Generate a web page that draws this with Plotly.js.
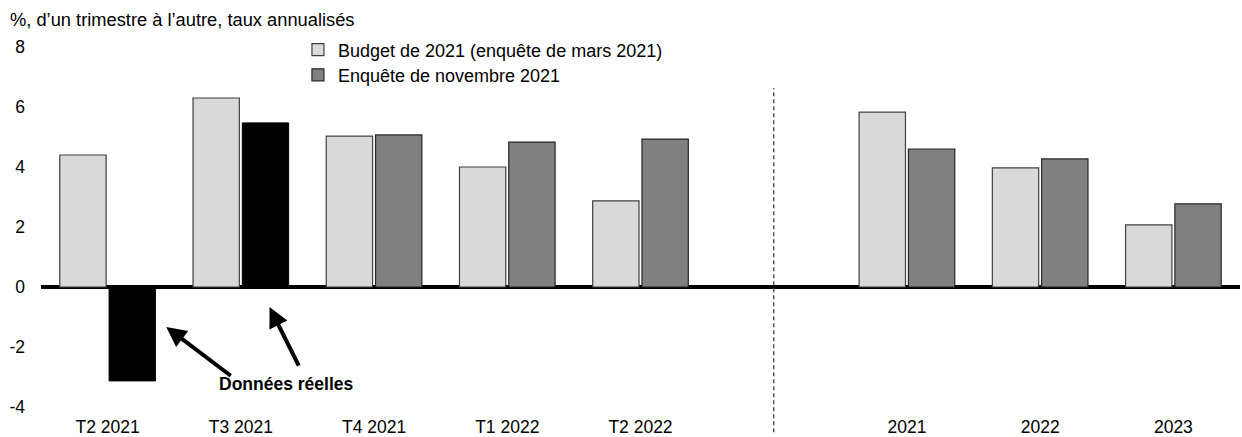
<!DOCTYPE html>
<html>
<head>
<meta charset="utf-8">
<script src="https://cdn.plot.ly/plotly-3.0.1.min.js"></script>
<style>html,body{margin:0;padding:0;background:#fff;}#chart{width:1242px;height:437px;}</style>
</head>
<body>
<div id="chart"></div>
<script>
const categories = ["T2 2021", "T3 2021", "T4 2021", "T1 2022", "T2 2022", " ", "2021", "2022", "2023"];
const budgetValues = [4.4, 6.3, 5.03, 4.0, 2.87, null, 5.83, 3.97, 2.07];
const actualValues = [-3.13, 5.47, null, null, null, null, null, null, null];
const novemberValues = [null, null, 5.07, 4.83, 4.93, null, 4.6, 4.27, 2.77];
const yTicks = [-4, -2, 0, 2, 4, 6, 8];
const yTickLabels = ["-4", "-2", "0", "2", "4", "6", "8"];
const budgetName = "Budget de 2021 (enquête de mars 2021)";
const novemberName = "Enquête de novembre 2021";
const yTitle = "%, d’un trimestre à l’autre, taux annualisés";
const noteText = "Données réelles";

const FONT = "Liberation Sans, Arial, sans-serif";
const traces = [
  {type: "bar", x: categories, y: budgetValues, name: budgetName, offsetgroup: "a", legend: "legend",
   marker: {color: "#d9d9d9", line: {color: "#404040", width: 1.2}}, hoverinfo: "x+y"},
  {type: "bar", x: categories, y: novemberValues, name: novemberName, offsetgroup: "b", legend: "legend2",
   marker: {color: "#808080", line: {color: "#262626", width: 1.2}}, hoverinfo: "x+y"},
  {type: "bar", x: categories, y: actualValues, name: noteText, offsetgroup: "b", showlegend: false,
   marker: {color: "#000000", line: {color: "#000000", width: 1}}, hoverinfo: "x+y"}
];

const legendBase = {x: 0.2143, xanchor: "left", yanchor: "middle", bgcolor: "rgba(0,0,0,0)",
                    font: {family: FONT, size: 18, color: "#000"}, itemwidth: 30};

const layout = {
  width: 1242, height: 437,
  margin: {l: 41, r: 2, t: 47, b: 30},
  paper_bgcolor: "#fff", plot_bgcolor: "#fff",
  font: {family: FONT, size: 18, color: "#000"},
  barmode: "group", bargap: 0.26, bargroupgap: 0.06,
  showlegend: true,
  legend: Object.assign({}, legendBase, {y: 0.9917}),
  legend2: Object.assign({}, legendBase, {y: 0.922}),
  title: {text: yTitle, x: 10/1242, xanchor: "left", xref: "container", y: 1 - 20/437, yanchor: "middle", yref: "container",
          font: {family: FONT, size: 18.3, color: "#000"}},
  xaxis: {type: "category", categoryorder: "array", categoryarray: categories,
          showgrid: false, showline: false, ticks: "", ticklabelstandoff: 7,
          tickfont: {family: FONT, size: 17.5}},
  yaxis: {range: [-4, 8], tickvals: yTicks, ticktext: yTickLabels, showgrid: false, showline: false, ticks: "",
          zeroline: true, zerolinecolor: "#000", zerolinewidth: 4,
          ticklabelstandoff: 15, tickfont: {family: FONT, size: 17.5}},
  shapes: [
    {type: "line", xref: "x", yref: "paper", x0: 5, x1: 5, y0: -0.07, y1: 0.886,
     line: {color: "#555", width: 1.5, dash: "4px,3px"}}
  ],
  annotations: [
    {x: 1.34, y: -3.22, xref: "x", yref: "y", text: "<b>" + noteText + "</b>", showarrow: false,
     font: {family: FONT, size: 17.5, color: "#000"}},
    {x: 0.44, y: -1.33, xref: "x", yref: "y", ax: 66, ay: 50, text: "", showarrow: true,
     arrowhead: 2, arrowsize: 1, arrowwidth: 4, arrowcolor: "#000"},
    {x: 1.215, y: -0.67, xref: "x", yref: "y", ax: 30, ay: 60, text: "", showarrow: true,
     arrowhead: 2, arrowsize: 1, arrowwidth: 4, arrowcolor: "#000"}
  ]
};

Plotly.newPlot("chart", traces, layout, {displayModeBar: false, staticPlot: true});
</script>
</body>
</html>
